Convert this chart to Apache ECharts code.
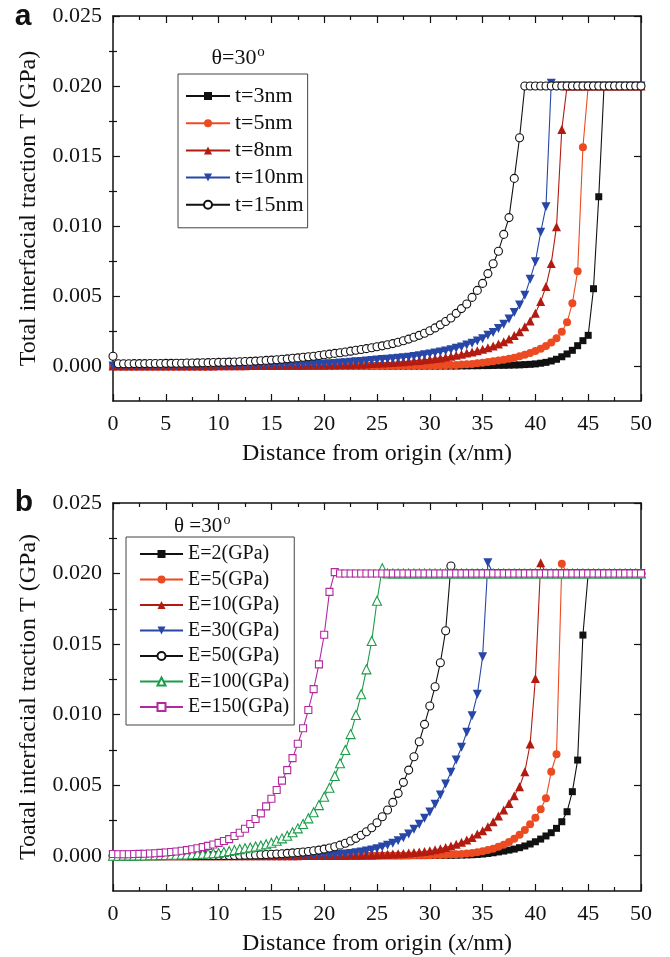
<!DOCTYPE html>
<html>
<head>
<meta charset="utf-8">
<script src="https://cdn.jsdelivr.net/npm/echarts@6/dist/echarts.min.js"></script>
<style>
  html, body { margin: 0; padding: 0; background: #ffffff; }
  #chart { width: 670px; height: 957px; }
</style>
</head>
<body>
<div id="chart"></div>
<script>
// Distance from origin (nm), sampled every 0.5 nm
const xs = [
  0, 0.5, 1, 1.5, 2, 2.5, 3, 3.5, 4, 4.5,
  5, 5.5, 6, 6.5, 7, 7.5, 8, 8.5, 9, 9.5,
  10, 10.5, 11, 11.5, 12, 12.5, 13, 13.5, 14, 14.5,
  15, 15.5, 16, 16.5, 17, 17.5, 18, 18.5, 19, 19.5,
  20, 20.5, 21, 21.5, 22, 22.5, 23, 23.5, 24, 24.5,
  25, 25.5, 26, 26.5, 27, 27.5, 28, 28.5, 29, 29.5,
  30, 30.5, 31, 31.5, 32, 32.5, 33, 33.5, 34, 34.5,
  35, 35.5, 36, 36.5, 37, 37.5, 38, 38.5, 39, 39.5,
  40, 40.5, 41, 41.5, 42, 42.5, 43, 43.5, 44, 44.5,
  45, 45.5, 46, 46.5, 47, 47.5, 48, 48.5, 49, 49.5,
  50
];

// ---- Panel (a): traction T (GPa) for film thickness t, theta = 30 deg ----
const thicknessNames = ['t=3nm', 't=5nm', 't=8nm', 't=10nm', 't=15nm'];

const t3nm = [
  0, 0, 0, 0, 0, 0, 0, 0, 0, 0,
  0, 0, 0, 0, 0, 0, 0, 0, 0, 0,
  0, 0, 0, 0, 0, 0, 0, 0, 0, 0,
  0, 0, 0, 0, 0, 0, 0, 0, 0, 0,
  0, 0, 0, 0, 0, 0, 0, 0, 0, 0,
  0, 0, 0, 0, 0, 0, 0, 0, 0, 0,
  0, 0, 0, 0, 0, 0, 0.00001, 0.00001, 0.00002, 0.00002,
  0.00003, 0.00003, 0.00004, 0.00005, 0.00005, 0.00006, 0.00007, 0.00008, 0.0001, 0.00012,
  0.00015, 0.0002, 0.00026, 0.00036, 0.00048, 0.00066, 0.00086, 0.00112, 0.00145, 0.00181,
  0.00219, 0.00552, 0.01209, 0.02, 0.02, 0.02, 0.02, 0.02, 0.02, 0.02,
  0.02
];

const t5nm = [
  0, 0, 0, 0, 0, 0, 0, 0, 0, 0,
  0, 0, 0, 0, 0, 0, 0, 0, 0, 0,
  0, 0, 0, 0, 0, 0, 0, 0, 0, 0,
  0, 0, 0, 0, 0, 0, 0, 0, 0, 0,
  0.00001, 0.00001, 0.00001, 0.00001, 0.00001, 0.00001, 0.00002, 0.00002, 0.00002, 0.00002,
  0.00002, 0.00002, 0.00002, 0.00002, 0.00003, 0.00003, 0.00003, 0.00003, 0.00003, 0.00003,
  0.00004, 0.00004, 0.00005, 0.00006, 0.00007, 0.00008, 0.0001, 0.00012, 0.00015, 0.00019,
  0.00024, 0.00029, 0.00034, 0.00039, 0.00045, 0.00052, 0.00059, 0.00069, 0.00081, 0.00093,
  0.00107, 0.00124, 0.00143, 0.00167, 0.00198, 0.00245, 0.00312, 0.00448, 0.00676, 0.01562,
  0.02, 0.02, 0.02, 0.02, 0.02, 0.02, 0.02, 0.02, 0.02, 0.02,
  0.02
];

const t8nm = [
  0, 0, 0, 0, 0, 0, 0, 0, 0, 0,
  0, 0, 0, 0, 0, 0, 0, 0, 0, 0,
  0.00001, 0.00001, 0.00001, 0.00002, 0.00002, 0.00002, 0.00003, 0.00003, 0.00003, 0.00004,
  0.00004, 0.00004, 0.00005, 0.00005, 0.00006, 0.00006, 0.00006, 0.00007, 0.00007, 0.00008,
  0.00008, 0.00009, 0.00009, 0.0001, 0.0001, 0.00011, 0.00012, 0.00013, 0.00015, 0.00017,
  0.00019, 0.00021, 0.00023, 0.00025, 0.00028, 0.00031, 0.00034, 0.00037, 0.0004, 0.00044,
  0.00048, 0.00053, 0.00058, 0.00063, 0.00069, 0.00076, 0.00084, 0.00092, 0.001, 0.00109,
  0.00119, 0.0013, 0.00143, 0.00157, 0.00174, 0.00193, 0.00217, 0.00245, 0.00281, 0.00321,
  0.00376, 0.0046, 0.00567, 0.00733, 0.00995, 0.0169, 0.02, 0.02, 0.02, 0.02,
  0.02, 0.02, 0.02, 0.02, 0.02, 0.02, 0.02, 0.02, 0.02, 0.02,
  0.02
];

const t10nm = [
  0, 0, 0, 0, 0, 0, 0, 0, 0, 0,
  0, 0, 0, 0, 0, 0, 0.00001, 0.00001, 0.00001, 0.00002,
  0.00002, 0.00002, 0.00003, 0.00003, 0.00004, 0.00004, 0.00005, 0.00005, 0.00006, 0.00006,
  0.00007, 0.00008, 0.00008, 0.00009, 0.0001, 0.0001, 0.00011, 0.00012, 0.00013, 0.00013,
  0.00014, 0.00016, 0.00018, 0.00021, 0.00024, 0.00027, 0.0003, 0.00033, 0.00036, 0.0004,
  0.00043, 0.00046, 0.00049, 0.00052, 0.00055, 0.00059, 0.00063, 0.00068, 0.00074, 0.0008,
  0.00086, 0.00093, 0.001, 0.00108, 0.00116, 0.00126, 0.00136, 0.0015, 0.00162, 0.00179,
  0.00195, 0.00219, 0.0024, 0.00267, 0.00298, 0.00336, 0.00383, 0.00436, 0.00505, 0.0062,
  0.00745, 0.00955, 0.01138, 0.0202, 0.02, 0.02, 0.02, 0.02, 0.02, 0.02,
  0.02, 0.02, 0.02, 0.02, 0.02, 0.02, 0.02, 0.02, 0.02, 0.02,
  0.02
];

const t15nm = [
  0.0007, 0.00016, 0.00016, 0.00016, 0.00017, 0.00017, 0.00017, 0.00018, 0.00018, 0.00018,
  0.00019, 0.00019, 0.0002, 0.0002, 0.00021, 0.00021, 0.00022, 0.00023, 0.00024, 0.00025,
  0.00026, 0.00027, 0.00028, 0.00029, 0.0003, 0.00032, 0.00033, 0.00035, 0.00037, 0.0004,
  0.00042, 0.00045, 0.00048, 0.00051, 0.00055, 0.00058, 0.00062, 0.00066, 0.0007, 0.00075,
  0.0008, 0.00085, 0.0009, 0.00095, 0.001, 0.00106, 0.00112, 0.00118, 0.00124, 0.0013,
  0.00137, 0.00144, 0.00152, 0.0016, 0.0017, 0.0018, 0.00192, 0.00205, 0.00219, 0.00234,
  0.00252, 0.00272, 0.00294, 0.00318, 0.00343, 0.00376, 0.0041, 0.00443, 0.0049, 0.0054,
  0.0059, 0.0066, 0.0073, 0.0082, 0.0094, 0.0106, 0.0134, 0.0163, 0.02, 0.02,
  0.02, 0.02, 0.02, 0.02, 0.02, 0.02, 0.02, 0.02, 0.02, 0.02,
  0.02, 0.02, 0.02, 0.02, 0.02, 0.02, 0.02, 0.02, 0.02, 0.02,
  0.02
];

// ---- Panel (b): traction T (GPa) for modulus E, theta = 30 deg ----
const modulusNames = ['E=2(GPa)', 'E=5(GPa)', 'E=10(GPa)', 'E=30(GPa)', 'E=50(GPa)', 'E=100(GPa)', 'E=150(GPa)'];

const e2 = [
  0, 0, 0, 0, 0, 0, 0, 0, 0, 0,
  0, 0, 0, 0, 0, 0, 0, 0, 0, 0,
  0, 0, 0, 0, 0, 0, 0, 0, 0, 0,
  0, 0, 0, 0, 0, 0, 0, 0, 0, 0,
  0, 0, 0, 0, 0, 0, 0, 0, 0, 0,
  0, 0, 0, 0, 0, 0, 0.00001, 0.00001, 0.00001, 0.00001,
  0.00002, 0.00002, 0.00002, 0.00003, 0.00003, 0.00004, 0.00005, 0.00006, 0.00007, 0.00009,
  0.00012, 0.00016, 0.00021, 0.00027, 0.00033, 0.0004, 0.00047, 0.00057, 0.00069, 0.00083,
  0.00099, 0.00118, 0.0014, 0.00163, 0.00194, 0.00241, 0.00312, 0.00454, 0.00678, 0.01564,
  0.02, 0.02, 0.02, 0.02, 0.02, 0.02, 0.02, 0.02, 0.02, 0.02,
  0.02
];

const e5 = [
  0, 0, 0, 0, 0, 0, 0, 0, 0, 0,
  0, 0, 0, 0, 0, 0, 0, 0, 0, 0,
  0, 0, 0, 0, 0, 0, 0, 0, 0, 0,
  0, 0, 0, 0, 0, 0, 0, 0, 0, 0,
  0, 0, 0, 0, 0, 0, 0, 0, 0, 0,
  0.00001, 0.00001, 0.00001, 0.00001, 0.00002, 0.00002, 0.00002, 0.00003, 0.00003, 0.00004,
  0.00004, 0.00005, 0.00006, 0.00007, 0.00008, 0.0001, 0.00012, 0.00015, 0.00019, 0.00025,
  0.00031, 0.0004, 0.0005, 0.00064, 0.00078, 0.00097, 0.0012, 0.00149, 0.00182, 0.00223,
  0.00269, 0.00329, 0.00407, 0.00595, 0.00719, 0.0207, 0.02, 0.02, 0.02, 0.02,
  0.02, 0.02, 0.02, 0.02, 0.02, 0.02, 0.02, 0.02, 0.02, 0.02,
  0.02
];

const e10 = [
  0, 0, 0, 0, 0, 0, 0, 0, 0, 0,
  0, 0, 0, 0, 0, 0, 0, 0, 0, 0,
  0, 0, 0, 0, 0, 0, 0, 0, 0, 0,
  0, 0, 0, 0, 0, 0, 0.00001, 0.00001, 0.00001, 0.00001,
  0.00001, 0.00002, 0.00002, 0.00002, 0.00002, 0.00003, 0.00003, 0.00004, 0.00005, 0.00006,
  0.00007, 0.00008, 0.0001, 0.00012, 0.00014, 0.00016, 0.00019, 0.00022, 0.00026, 0.0003,
  0.00035, 0.00042, 0.0005, 0.00059, 0.00069, 0.00081, 0.00095, 0.00111, 0.0013, 0.00154,
  0.00177, 0.00206, 0.00241, 0.00281, 0.00324, 0.00371, 0.00425, 0.00489, 0.00595, 0.00792,
  0.01257, 0.02077, 0.02, 0.02, 0.02, 0.02, 0.02, 0.02, 0.02, 0.02,
  0.02, 0.02, 0.02, 0.02, 0.02, 0.02, 0.02, 0.02, 0.02, 0.02,
  0.02
];

const e30 = [
  0, 0, 0, 0, 0, 0, 0, 0, 0, 0,
  0, 0, 0, 0, 0, 0, 0, 0, 0, 0,
  0, 0, 0, 0, 0, 0, 0, 0, 0, 0,
  0, 0, 0.00001, 0.00001, 0.00001, 0.00001, 0.00002, 0.00002, 0.00002, 0.00003,
  0.00003, 0.00004, 0.00006, 0.00009, 0.00012, 0.00016, 0.00021, 0.00027, 0.00033, 0.00041,
  0.0005, 0.00061, 0.00074, 0.00088, 0.00106, 0.00128, 0.00154, 0.00187, 0.00223, 0.00265,
  0.0031, 0.00364, 0.0043, 0.00508, 0.00591, 0.00678, 0.00768, 0.00875, 0.00992, 0.01144,
  0.0141, 0.02077, 0.02, 0.02, 0.02, 0.02, 0.02, 0.02, 0.02, 0.02,
  0.02, 0.02, 0.02, 0.02, 0.02, 0.02, 0.02, 0.02, 0.02, 0.02,
  0.02, 0.02, 0.02, 0.02, 0.02, 0.02, 0.02, 0.02, 0.02, 0.02,
  0.02
];

const e50 = [
  0, 0, 0, 0, 0, 0, 0, 0, 0, 0,
  0, 0, 0, 0, 0, 0, 0, 0, 0, 0,
  0.00001, 0.00001, 0.00002, 0.00002, 0.00003, 0.00004, 0.00005, 0.00006, 0.00007, 0.00009,
  0.0001, 0.00012, 0.00014, 0.00017, 0.0002, 0.00023, 0.00026, 0.0003, 0.00035, 0.0004,
  0.00047, 0.00055, 0.00064, 0.00075, 0.00088, 0.00104, 0.00123, 0.00145, 0.0017, 0.00198,
  0.00234, 0.00276, 0.00324, 0.00378, 0.00442, 0.0052, 0.00607, 0.00702, 0.00808, 0.00931,
  0.01061, 0.01198, 0.01368, 0.01595, 0.02053, 0.02, 0.02, 0.02, 0.02, 0.02,
  0.02, 0.02, 0.02, 0.02, 0.02, 0.02, 0.02, 0.02, 0.02, 0.02,
  0.02, 0.02, 0.02, 0.02, 0.02, 0.02, 0.02, 0.02, 0.02, 0.02,
  0.02, 0.02, 0.02, 0.02, 0.02, 0.02, 0.02, 0.02, 0.02, 0.02,
  0.02
];

const e100 = [
  0, 0, 0.00001, 0.00001, 0.00001, 0.00002, 0.00002, 0.00003, 0.00003, 0.00004,
  0.00005, 0.00006, 0.00007, 0.00008, 0.00009, 0.0001, 0.00012, 0.00014, 0.00016, 0.00018,
  0.0002, 0.00026, 0.00033, 0.0004, 0.00047, 0.00053, 0.00059, 0.00065, 0.00072, 0.00081,
  0.00092, 0.00106, 0.00123, 0.00142, 0.00166, 0.00194, 0.00225, 0.00265, 0.00308, 0.00359,
  0.00418, 0.00482, 0.00565, 0.00655, 0.00749, 0.00862, 0.00997, 0.01144, 0.01321, 0.01522,
  0.01807, 0.02037, 0.02, 0.02, 0.02, 0.02, 0.02, 0.02, 0.02, 0.02,
  0.02, 0.02, 0.02, 0.02, 0.02, 0.02, 0.02, 0.02, 0.02, 0.02,
  0.02, 0.02, 0.02, 0.02, 0.02, 0.02, 0.02, 0.02, 0.02, 0.02,
  0.02, 0.02, 0.02, 0.02, 0.02, 0.02, 0.02, 0.02, 0.02, 0.02,
  0.02, 0.02, 0.02, 0.02, 0.02, 0.02, 0.02, 0.02, 0.02, 0.02,
  0.02
];

const e150 = [
  0.00012, 0.0001, 0.0001, 0.00011, 0.00012, 0.00013, 0.00014, 0.00016, 0.00018, 0.0002,
  0.00023, 0.00026, 0.0003, 0.00035, 0.0004, 0.00046, 0.00053, 0.00061, 0.0007, 0.0008,
  0.00091, 0.00104, 0.00118, 0.0014, 0.00163, 0.00191, 0.00225, 0.0026, 0.003, 0.0035,
  0.00404, 0.00466, 0.00532, 0.00607, 0.00692, 0.00794, 0.00903, 0.01033, 0.01181, 0.01356,
  0.01566, 0.0187, 0.0201, 0.02, 0.02, 0.02, 0.02, 0.02, 0.02, 0.02,
  0.02, 0.02, 0.02, 0.02, 0.02, 0.02, 0.02, 0.02, 0.02, 0.02,
  0.02, 0.02, 0.02, 0.02, 0.02, 0.02, 0.02, 0.02, 0.02, 0.02,
  0.02, 0.02, 0.02, 0.02, 0.02, 0.02, 0.02, 0.02, 0.02, 0.02,
  0.02, 0.02, 0.02, 0.02, 0.02, 0.02, 0.02, 0.02, 0.02, 0.02,
  0.02, 0.02, 0.02, 0.02, 0.02, 0.02, 0.02, 0.02, 0.02, 0.02,
  0.02
];

// Axis tick positions
const yMajorTicks = [0, 0.005, 0.01, 0.015, 0.02, 0.025];
const yMinorTicks = [0.0025, 0.0075, 0.0125, 0.0175, 0.0225];

// ---- Styling ----
const SERIF = '"Liberation Serif", "Times New Roman", serif';
const SANS = '"Liberation Sans", Arial, sans-serif';
const INK = '#111111';
const C_BLACK = '#111111';
const C_ORANGE = '#ec4b21';
const C_DKRED = '#b31b10';
const C_BLUE = '#2746a6';
const C_GREEN = '#1c9c48';
const C_MAGENTA = '#b3289f';

const panelAStyles = [
  { color: C_BLACK,  symbol: 'rect',     size: 7, open: false },
  { color: C_ORANGE, symbol: 'circle',   size: 8, open: false },
  { color: C_DKRED,  symbol: 'triangle', size: 9, open: false },
  { color: C_BLUE,   symbol: 'triangle', size: 9, open: false, rotate: 180 },
  { color: C_BLACK,  symbol: 'circle',   size: 8, open: true }
];
const panelBStyles = [
  { color: C_BLACK,   symbol: 'rect',     size: 7, open: false },
  { color: C_ORANGE,  symbol: 'circle',   size: 8, open: false },
  { color: C_DKRED,   symbol: 'triangle', size: 9, open: false },
  { color: C_BLUE,    symbol: 'triangle', size: 9, open: false, rotate: 180 },
  { color: C_BLACK,   symbol: 'circle',   size: 8, open: true },
  { color: C_GREEN,   symbol: 'triangle', size: 9, open: true },
  { color: C_MAGENTA, symbol: 'rect',     size: 7, open: true }
];

function lineSeries(name, values, st, xi, yi) {
  return {
    name: name,
    type: 'line',
    xAxisIndex: xi,
    yAxisIndex: yi,
    data: xs.map((x, i) => [x, values[i]]),
    symbol: st.symbol,
    symbolSize: st.size,
    symbolRotate: st.rotate || 0,
    showSymbol: true,
    showAllSymbol: true,
    lineStyle: { color: st.color, width: 1.1 },
    itemStyle: st.open
      ? { color: '#ffffff', borderColor: st.color, borderWidth: 1.1 }
      : { color: st.color, borderWidth: 0 },
    emphasis: { disabled: true },
    silent: true
  };
}

const axisLineStyle = { color: INK, width: 1.5 };
const tickLineStyle = { color: INK, width: 1.2 };

function xAxesFor(g) {
  const base = {
    type: 'value', gridIndex: g, min: 0, max: 50, interval: 5,
    axisLine: { show: true, onZero: false, lineStyle: axisLineStyle },
    axisTick: { show: true, inside: true, length: 7, lineStyle: tickLineStyle },
    minorTick: { show: true, splitNumber: 2, length: 4, lineStyle: tickLineStyle },
    splitLine: { show: false },
    minorSplitLine: { show: false }
  };
  return [
    Object.assign({}, base, {
      position: 'bottom',
      axisLabel: { margin: 12, fontFamily: SERIF, fontSize: 22, color: INK },
      name: 'Distance from origin ({i|x}/nm)',
      nameLocation: 'middle',
      nameGap: 41,
      nameTextStyle: {
        fontFamily: SERIF, fontSize: 24, color: INK,
        rich: { i: { fontFamily: SERIF, fontSize: 24, fontStyle: 'italic', color: INK } }
      }
    }),
    Object.assign({}, base, { position: 'top', axisLabel: { show: false } })
  ];
}

function yAxesFor(g, title) {
  const base = {
    type: 'value', gridIndex: g, min: -0.0025, max: 0.025,
    splitLine: { show: false }
  };
  return [
    Object.assign({}, base, {
      position: 'left',
      axisLine: { show: true, onZero: false, lineStyle: axisLineStyle },
      axisTick: { show: true, inside: true, length: 7, lineStyle: tickLineStyle, customValues: yMajorTicks },
      axisLabel: {
        customValues: yMajorTicks, margin: 11,
        fontFamily: SERIF, fontSize: 22, color: INK,
        formatter: v => v.toFixed(3)
      },
      name: title,
      nameLocation: 'middle',
      nameGap: 72,
      nameTextStyle: { fontFamily: SERIF, fontSize: 24, color: INK }
    }),
    Object.assign({}, base, {
      position: 'left',
      axisLine: { show: false },
      axisTick: { show: true, inside: true, length: 4, lineStyle: tickLineStyle, customValues: yMinorTicks },
      axisLabel: { show: false }
    }),
    Object.assign({}, base, {
      position: 'right',
      axisLine: { show: true, onZero: false, lineStyle: axisLineStyle },
      axisTick: { show: true, inside: true, length: 7, lineStyle: tickLineStyle, customValues: yMajorTicks },
      axisLabel: { show: false }
    }),
    Object.assign({}, base, {
      position: 'right',
      axisLine: { show: false },
      axisTick: { show: true, inside: true, length: 4, lineStyle: tickLineStyle, customValues: yMinorTicks },
      axisLabel: { show: false }
    })
  ];
}

const seriesA = [t3nm, t5nm, t8nm, t10nm, t15nm].map((vals, k) =>
  lineSeries(thicknessNames[k], vals, panelAStyles[k], 0, 0));
const seriesB = [e2, e5, e10, e30, e50, e100, e150].map((vals, k) =>
  lineSeries(modulusNames[k], vals, panelBStyles[k], 2, 4));

const option = {
  animation: false,
  backgroundColor: '#ffffff',
  grid: [
    { left: 113, top: 16, width: 528, height: 385, outerBoundsMode: 'none' },
    { left: 113, top: 503, width: 528, height: 388, outerBoundsMode: 'none' }
  ],
  xAxis: xAxesFor(0).concat(xAxesFor(1)),
  yAxis: yAxesFor(0, 'Total interfacial traction T (GPa)')
    .concat(yAxesFor(1, 'Toatal interfacial traction T (GPa)')),
  legend: [
    {
      data: thicknessNames,
      orient: 'vertical', left: 178, top: 74,
      padding: [11, 4, 12, 7],
      itemGap: 5.2, itemWidth: 44, itemHeight: 10,
      borderColor: '#444444', borderWidth: 1,
      selectedMode: false,
      textStyle: { fontFamily: SERIF, fontSize: 22, color: INK }
    },
    {
      data: modulusNames,
      orient: 'vertical', left: 126, top: 537,
      padding: [7, 5, 8, 13],
      itemGap: 5.5, itemWidth: 43, itemHeight: 10,
      borderColor: '#444444', borderWidth: 1,
      selectedMode: false,
      textStyle: { fontFamily: SERIF, fontSize: 20, color: INK }
    }
  ],
  graphic: [
    { type: 'text', x: 23, y: 17, style: { text: 'a', font: 'bold 30px ' + SANS, fill: INK, align: 'center', verticalAlign: 'middle' } },
    { type: 'text', x: 24, y: 503, style: { text: 'b', font: 'bold 30px ' + SANS, fill: INK, align: 'center', verticalAlign: 'middle' } },
    { type: 'text', x: 234, y: 58, style: { text: 'θ=30', font: '22px ' + SERIF, fill: INK, align: 'center', verticalAlign: 'middle' } },
    { type: 'text', x: 261, y: 52, style: { text: 'o', font: '15px ' + SERIF, fill: INK, align: 'center', verticalAlign: 'middle' } },
    { type: 'text', x: 174, y: 526, style: { text: 'θ =30', font: '21px ' + SERIF, fill: INK, align: 'left', verticalAlign: 'middle' } },
    { type: 'text', x: 227, y: 520, style: { text: 'o', font: '14px ' + SERIF, fill: INK, align: 'center', verticalAlign: 'middle' } }
  ],
  series: seriesA.concat(seriesB)
};

const chart = echarts.init(document.getElementById('chart'), null, { renderer: 'canvas', width: 670, height: 957 });
chart.setOption(option);
</script>
</body>
</html>
